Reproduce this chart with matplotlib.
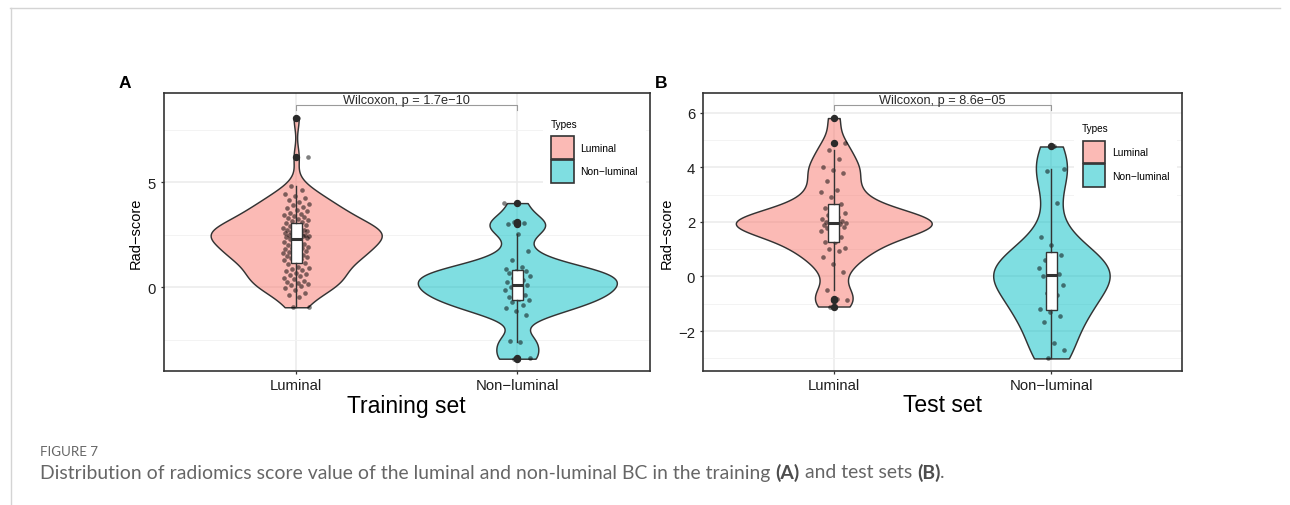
import numpy as np
import matplotlib
matplotlib.use("Agg")
import matplotlib.pyplot as plt
from matplotlib.patches import Rectangle
from matplotlib.lines import Line2D
from matplotlib.colors import to_rgba

plt.rcParams["font.family"] = ["Liberation Sans", "DejaVu Sans"]

W, H, DPI = 1290, 506, 100

# ---------------------------------------------------------------- data
categories = ["Luminal", "Non\u2212luminal"]
type_colors = ["#F8766D", "#00BFC4"]

train_luminal = [
    -0.95, -0.92,
    -0.45, -0.35, -0.25, -0.15, -0.05,
    0.05, 0.10, 0.15, 0.20, 0.25, 0.30, 0.38, 0.45,
    0.52, 0.58, 0.64, 0.70, 0.76, 0.82, 0.88, 0.93, 0.98,
    1.12, 1.18, 1.24, 1.30, 1.35, 1.40, 1.44, 1.47, 1.49,
    1.53, 1.57, 1.61, 1.65, 1.69, 1.73, 1.77, 1.81, 1.85, 1.89, 1.93, 1.97,
    2.03, 2.08, 2.13, 2.18, 2.27, 2.31, 2.34, 2.37, 2.40, 2.42, 2.44, 2.46,
    2.48, 2.49,
    2.51, 2.54, 2.57, 2.60, 2.63, 2.66, 2.69, 2.72, 2.75, 2.79, 2.83, 2.87,
    2.91, 2.95, 2.99,
    3.04, 3.10, 3.16, 3.21, 3.26, 3.31, 3.36, 3.41, 3.45, 3.49,
    3.56, 3.63, 3.70, 3.77, 3.84, 3.91, 3.97,
    4.06, 4.15, 4.25, 4.35, 4.45,
    4.62, 4.81,
    6.20, 8.05,
]
train_nonluminal = [
    -3.40, -3.35, -2.62, -2.55, -1.32, -1.15, -1.00, -0.85, -0.70, -0.59,
    -0.55, -0.45, -0.35, -0.25, -0.15, -0.05, 0.02, 0.10, 0.16, 0.25,
    0.35, 0.45, 0.55, 0.62, 0.70, 0.76, 0.80, 0.87, 0.95, 1.31,
    1.74, 2.54, 3.00, 3.05, 3.10, 4.01,
]
test_luminal = [
    -1.10, -0.85, -0.83, -0.51, 0.15, 0.45, 0.70, 0.92, 1.00, 1.05,
    1.25, 1.28, 1.45, 1.58, 1.66, 1.72, 1.78, 1.82, 1.86, 1.89,
    1.92, 1.94, 1.95, 1.97, 2.00, 2.04, 2.08, 2.12, 2.18, 2.24,
    2.32, 2.42, 2.52, 2.66, 2.90, 3.10, 3.15, 3.50, 3.80, 3.90,
    4.00, 4.30, 4.63, 4.90, 5.80,
]
test_nonluminal = [
    -3.00, -2.69, -2.44, -1.68, -1.44, -1.30, -1.19, -0.68, -0.61, -0.30,
    -0.10, 0.02, 0.08, 0.15, 0.30, 0.45, 0.60, 0.80, 1.16, 1.46,
    2.70, 3.87, 3.93, 4.76,
]

train_p_label = "Wilcoxon, p = 1.7e\u221210"
test_p_label = "Wilcoxon, p = 8.6e\u221205"

caption_head = "FIGURE 7"
caption_runs = [
    ("Distribution of radiomics score value of the luminal and non-luminal BC in the training ", "normal"),
    ("(A)", "bold"),
    (" and test sets ", "normal"),
    ("(B)", "bold"),
    (".", "normal"),
]

# ------------------------------------------------------------- helpers
def fx(x):
    return x / W


def fy(y):
    return 1 - y / H


def nrd0(x):
    x = np.asarray(x, float)
    sd = x.std(ddof=1)
    q75, q25 = np.percentile(x, [75, 25])
    return 0.9 * min(sd, (q75 - q25) / 1.34) * len(x) ** -0.2


def trimmed_density(x, n=512):
    x = np.asarray(x, float)
    bw = nrd0(x)
    grid = np.linspace(x.min(), x.max(), n)
    z = (grid[:, None] - x[None, :]) / bw
    d = np.exp(-0.5 * z ** 2).sum(axis=1) / (len(x) * bw * np.sqrt(2 * np.pi))
    return grid, d


def jitter_offsets(n, half_width):
    k = np.arange(n)
    return ((k * 0.6180339887 + 0.37) % 1.0 - 0.5) * 2 * half_width


fig = plt.figure(figsize=(W / DPI, H / DPI), dpi=DPI)
fig.patch.set_facecolor("white")

# page frame
fig.add_artist(Line2D([fx(10), fx(1280)], [fy(8.5), fy(8.5)], color="#d4d4d4", lw=1.0))
fig.add_artist(Line2D([fx(10.5), fx(10.5)], [fy(8.5), fy(506)], color="#d4d4d4", lw=1.0))

TXT = "#1f1f1f"
EDGE = "#333333"


def draw_panel(box, samples, ylim, major, minor, p_label, bracket, title,
               ylabel_x, legend_origin, letter, letter_xy):
    left, right, top, bottom = box
    ax = fig.add_axes([fx(left), fy(bottom), (right - left) / W, (bottom - top) / H])
    ax.set_xlim(0.4, 2.6)
    ax.set_ylim(*ylim)
    ax.set_xticks([1, 2])
    ax.set_xticklabels(categories)
    ax.set_yticks(major)
    ax.set_yticks(minor, minor=True)
    ax.set_yticklabels([f"{v:g}".replace("-", "\u2212") for v in major])
    ax.grid(which="major", color="#EBEBEB", lw=1.1)
    ax.grid(which="minor", axis="y", color="#F3F3F3", lw=0.7)
    ax.set_axisbelow(True)
    for s in ax.spines.values():
        s.set_color(EDGE)
        s.set_linewidth(1.2)
    ax.tick_params(which="major", length=2.4, width=0.9, color=EDGE,
                   labelsize=10.7, labelcolor=TXT)
    ax.tick_params(axis="x", pad=3)
    ax.tick_params(axis="y", pad=3.5)
    ax.tick_params(which="minor", length=0)

    positions = [1, 2]
    dens = [trimmed_density(v) for v in samples]
    dmax = max(d.max() for _, d in dens)
    for pos, (yy, d), col in zip(positions, dens, type_colors):
        hw = 0.45 * d / dmax
        ax.fill_betweenx(yy, pos - hw, pos + hw, facecolor=to_rgba(col, 0.5),
                         edgecolor=EDGE, lw=1.05, zorder=2)

    for pos, vals in zip(positions, samples):
        offs = jitter_offsets(len(vals), 0.06)
        ax.scatter(pos + offs, vals, s=11, c="black", alpha=0.5, lw=0, zorder=3)

    ax.boxplot(samples, positions=positions, widths=0.05, patch_artist=True,
               showcaps=False, whis=1.5, manage_ticks=False, zorder=4,
               boxprops=dict(facecolor="white", edgecolor=EDGE, linewidth=1.0),
               whiskerprops=dict(color=EDGE, linewidth=1.0),
               medianprops=dict(color=EDGE, linewidth=2.2),
               flierprops=dict(marker="o", markerfacecolor="#2a2a2a",
                               markeredgecolor="#2a2a2a", markersize=4.3))

    # significance bracket
    y_bar, y_tip = bracket
    ax.plot([1, 1, 2, 2], [y_tip, y_bar, y_bar, y_tip], color="#9a9a9a",
            lw=0.8, clip_on=False, zorder=5)
    ax.annotate(p_label, xy=(1.5, y_bar), xytext=(0, 1.6),
                textcoords="offset points", ha="center", va="baseline",
                fontsize=9.2, color="#2a2a2a", zorder=6)

    # axis titles
    fig.text(fx((left + right) / 2), fy(406), title, ha="center", va="center",
             fontsize=16.5, color="black")
    fig.text(fx(ylabel_x), fy((top + bottom) / 2), "Rad\u2212score", rotation=90,
             ha="center", va="center", fontsize=10.5, color="black")

    # legend
    lx, ly = legend_origin
    fig.add_artist(Rectangle((fx(lx - 8), fy(ly + 57)), 103 / W, 80 / H,
                             facecolor="white", edgecolor="none", zorder=7))
    fig.text(fx(lx), fy(ly - 11.5), "Types", ha="left", va="center",
             fontsize=7.2, color="black", zorder=8)
    key_w, key_h = 23.5, 23.7
    for i, (lab, col) in enumerate(zip(categories, type_colors)):
        ktop = ly + i * key_h
        fig.add_artist(Rectangle((fx(lx + 0.5), fy(ktop + key_h - 0.5)),
                                 (key_w - 1) / W, (key_h - 1) / H,
                                 facecolor=to_rgba(col, 0.5), edgecolor=EDGE,
                                 lw=1.2, zorder=8))
        fig.text(fx(lx + key_w + 6.5), fy(ktop + key_h / 2), lab, ha="left",
                 va="center", fontsize=7.4, color="black", zorder=8)

    fig.text(fx(letter_xy[0]), fy(letter_xy[1]), letter, ha="center",
             va="center", fontsize=12.5, fontweight="bold", color="black")
    return ax


draw_panel((163.5, 650, 94.3, 371.7), [train_luminal, train_nonluminal],
           (-3.971, 9.238), [0, 5], [-2.5, 2.5, 7.5], train_p_label,
           (8.68, 8.42), "Training set", 136, (550.5, 136.7), "A", (125, 84))

draw_panel((703.2, 1182, 94.3, 371.7), [test_luminal, test_nonluminal],
           (-3.45, 6.707), [-2, 0, 2, 4, 6], [-3, -1, 1, 3, 5], test_p_label,
           (6.27, 6.10), "Test set", 667, (1082, 141), "B", (661, 84))

# caption
CAP = "#666666"
cap_font = ["Lato", "Open Sans", "DejaVu Sans"]
fig.text(fx(40), fy(452), caption_head, ha="left", va="center", fontsize=9.6,
         color=CAP, family=cap_font)

renderer = fig.canvas.get_renderer()
size = 11.0
probe = fig.text(0, 0, "".join(t for t, _ in caption_runs), fontsize=size,
                 family=cap_font)
wpx = probe.get_window_extent(renderer).width
probe.remove()
size = size * 900 / wpx

x = 40.0
for txt, weight in caption_runs:
    t = fig.text(fx(x), fy(473), txt, ha="left", va="center", fontsize=size,
                 color=CAP if weight != "bold" else "#4d4d4d", family=cap_font,
                 fontweight=weight)
    x += t.get_window_extent(renderer).width

fig.savefig("out.png", dpi=DPI, facecolor="white")
